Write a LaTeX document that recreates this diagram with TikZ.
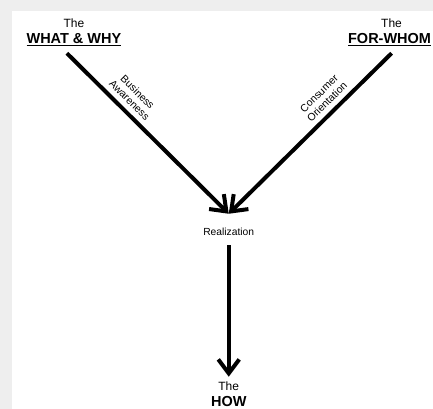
\documentclass[tikz,border=0pt]{standalone}
\usepackage{fontspec}
\setmainfont{Liberation Sans}
\usetikzlibrary{arrows.meta, positioning}

\begin{document}
\begin{tikzpicture}[
    x=1pt, y=-1pt,
    small/.style={font=\fontsize{12}{14}\selectfont, inner sep=2pt, anchor=base},
    head/.style={font=\fontsize{14.5}{16}\selectfont\bfseries, inner sep=2pt, anchor=base},
    note/.style={font=\fontsize{10.5}{11.5}\selectfont, align=center, inner sep=1pt},
    arrow/.style={line width=4pt, -{Straight Barb[length=14pt,width=21pt]}}
]

% background and page
\fill[gray!13] (0,0) rectangle (433,409);
\fill[white] (12,11) rectangle (433,409);

\node[small] (whatthe) at (74,28) {The};
\node[head] (what) at (74,44) {\underline{WHAT \& WHY}};
\node[small] (whomthe) at (392,28) {The};
\node[head] (whom) at (390,44) {\underline{FOR-WHOM}};
\node[font=\fontsize{10.3}{12}\selectfont, inner sep=2pt, anchor=base] (real) at (229,236) {Realization};
\node[small] (howthe) at (229,391) {The};
\node[head] (how) at (229,407) {HOW};

\coordinate (meet) at (229,214);

\draw[arrow] (what.south) ++(-7,5) -- (meet)
    node[note, pos=0.34, sloped, above=4pt] {Business\\Awareness};
\draw[arrow] (whom.south) ++(2,5) -- (meet)
    node[note, pos=0.35, sloped, above=4pt] {Consumer\\Orientation};
\draw[arrow] (real.south) ++(0,7) -- ([yshift=3pt]howthe.north);

\end{tikzpicture}
\end{document}
